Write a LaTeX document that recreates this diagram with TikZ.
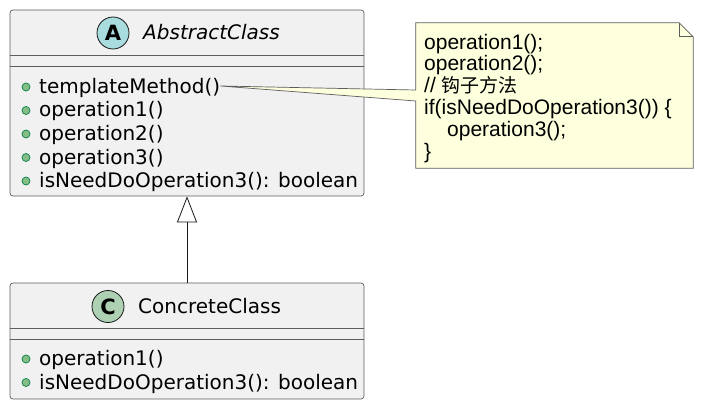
\documentclass[tikz,border=0pt]{standalone}
\usepackage{fontspec}
\usepackage{tikz}
\usetikzlibrary{arrows.meta,positioning,calc}
\newfontfamily\umlfont{DejaVu Sans}
\newfontfamily\notefont{Liberation Sans}
\newfontfamily\cjkfont{Noto Sans CJK SC}
\definecolor{UmlFill}{HTML}{F1F1F1}
\definecolor{UmlLine}{HTML}{181818}
\definecolor{UmlNote}{HTML}{FEFFDD}
\definecolor{UmlAbs}{HTML}{A9DCDF}
\definecolor{UmlCls}{HTML}{ADD1B2}
\definecolor{UmlDot}{HTML}{84BE84}
\definecolor{UmlDotLine}{HTML}{038048}
\tikzset{
  umlbox/.style={draw=UmlLine!70, fill=UmlFill, line width=0.7pt, rounded corners=3pt, inner sep=0pt},
  umlsep/.style={draw=UmlLine!70, line width=0.7pt},
  umlbadge/.style={circle, draw=UmlLine, line width=0.8pt, minimum size=32pt, inner sep=0pt, font=\umlfont\bfseries\fontsize{21}{21}\selectfont},
  umltitle/.style={anchor=base west, inner sep=0pt, font=\umlfont\fontsize{20}{24}\selectfont},
  umlmember/.style={anchor=base west, inner sep=0pt, font=\umlfont\fontsize{20}{24}\selectfont},
  umldot/.style={circle, draw=UmlDotLine, fill=UmlDot, line width=0.7pt, minimum size=8pt, inner sep=0pt},
  umlinherit/.style={-{Triangle[open,width=20pt,length=26pt]}, draw=UmlLine, line width=0.8pt},
  notebody/.style={draw=UmlLine!70, fill=UmlNote, line width=0.7pt, line join=miter},
  notetext/.style={anchor=north west, inner sep=0pt, align=left, font=\notefont\fontsize{21}{21.8}\selectfont}
}

\begin{document}
\begin{tikzpicture}[x=1pt, y=-1pt]
\useasboundingbox (0,0) rectangle (703,409);
% abstract class
\node[umlbox, minimum width=354pt, minimum height=186pt] (abs) at (187,103) {};
\draw[umlsep] ([yshift=-46pt]abs.north west) -- ([yshift=-46pt]abs.north east);
\draw[umlsep] ([yshift=-57pt]abs.north west) -- ([yshift=-57pt]abs.north east);
\node[umlbadge, fill=UmlAbs] (absmark) at (113,33) {A};
\node[umltitle, font=\umlfont\itshape\fontsize{20}{24}\selectfont] (abstitle) at (143,39.7) {AbstractClass};
\node[umldot] (d1) at (26,87) {};
\node[umlmember] (tm) at (39,93.5) {templateMethod()};
\node[umldot] (d2) at (26,110.5) {};
\node[umlmember] (op1) at (39,117) {operation1()};
\node[umldot] (d3) at (26,134) {};
\node[umlmember] (op2) at (39,140.5) {operation2()};
\node[umldot] (d4) at (26,157.5) {};
\node[umlmember] (op3) at (39,164) {operation3()};
\node[umldot] (d5) at (26,181) {};
\node[umlmember] (need) at (39,187.5) {isNeedDoOperation3(): boolean};
% concrete class
\node[umlbox, minimum width=354pt, minimum height=116pt] (conc) at (187,341) {};
\draw[umlsep] ([yshift=-46pt]conc.north west) -- ([yshift=-46pt]conc.north east);
\draw[umlsep] ([yshift=-57pt]conc.north west) -- ([yshift=-57pt]conc.north east);
\node[umlbadge, fill=UmlCls] (concmark) at (108,306.5) {C};
\node[umltitle] (conctitle) at (138,313.3) {ConcreteClass};
\node[umldot] (d6) at (26,359) {};
\node[umlmember] (cop1) at (39,365.5) {operation1()};
\node[umldot] (d7) at (26,382.5) {};
\node[umlmember] (cneed) at (39,389) {isNeedDoOperation3(): boolean};
\draw[umlinherit] (conc.north) -- (abs.south);
% note
\node[minimum width=277pt, minimum height=145pt, inner sep=0pt] (note) at (554.5,95.5) {};
\path[notebody] (note.north west) -- ([xshift=-14pt]note.north east)
  -- ([yshift=-14pt]note.north east) -- (note.south east) -- (note.south west)
  -- ([yshift=-5.5pt]note.west) -- ([yshift=2pt]tm.east) -- ([yshift=5.5pt]note.west) -- cycle;
\draw[notebody, fill=none] ([xshift=-14pt]note.north east) -- ([xshift=-14pt,yshift=-14pt]note.north east)
  -- ([yshift=-14pt]note.north east);
\node[notetext] (notecode) at (424,33.6) {operation1();\\operation2();\\// {\cjkfont\fontsize{19}{21.8}\selectfont 钩子方法}\\if(isNeedDoOperation3()) \{\\\hspace*{23pt}operation3();\\\}};
\end{tikzpicture}
\end{document}
